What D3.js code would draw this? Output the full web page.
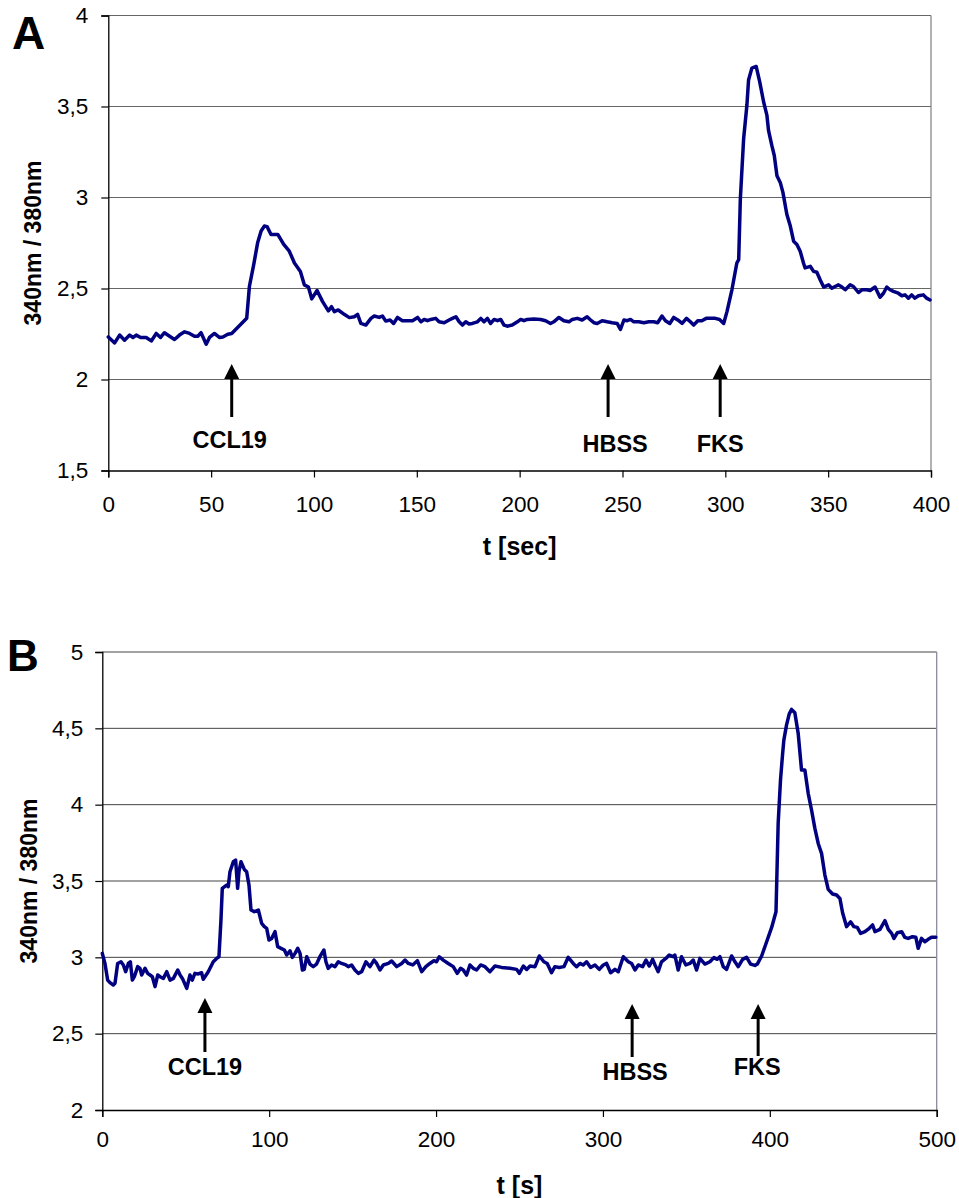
<!DOCTYPE html>
<html><head><meta charset="utf-8">
<script src="https://cdn.jsdelivr.net/npm/d3@7"></script>
<style>body{margin:0;background:#fff}svg{display:block}</style>
</head><body>
<script>
// ---------- Panel A data ----------
const tA = [0,3.1,5.5,7.9,10.4,12.0,13.6,15.7,18.4,20.9,23.3,25.4,27.3,29.8,32.2,34.6,37.1,39.5,41.9,43.5,45.1,47.6,49.2,51.6,54.0,55.7,58.1,60.0,
67.3,68.6,70.7,72.6,74.3,75.9,77.2,79.1,82.4,85.3,88.0,90.5,93.4,95.3,97.3,98.9,101.5,104.2,107.0,108.5,
109.9,111.8,114.7,117.2,119.6,121.2,122.8,125.2,127.7,129.3,131.7,133.3,134.9,137.0,138.7,140.6,143.0,145.5,147.9,150.4,152.0,153.6,155.2,156.8,159.2,160.8,163.3,165.7,167.3,169.0,170.6,172.2,173.8,175.4,177.0,179.5,181.1,182.7,184.3,185.9,187.6,189.2,190.8,192.4,194.0,196.4,198.9,200.5,202.1,203.7,206.9,210.2,212.6,215.0,216.6,219.1,221.5,224.0,225.6,228.0,230.4,232.8,234.5,236.1,237.7,240.1,242.6,245.0,247.4,249.0,250.7,252.3,253.9,
255.5,257.9,260.4,262.8,265.2,267.1,269.2,270.9,273.0,274.9,276.9,279.0,281.1,283.0,284.6,286.6,288.6,290.7,292.7,295.1,297.2,299.2,300.8,303.2,305.6,306.5,307.3,308.9,310.5,311.3,312.9,315.0,316.7,318.6,320.2,321.0,322.6,323.8,325.1,326.7,328.0,329.9,331.6,333.2,334.8,336.4,338.0,338.8,341.3,342.9,344.5,346.1,347.8,350.2,351.8,353.4,355.0,356.7,358.3,360.7,362.3,364.7,366.4,368.8,370.4,372.8,375.2,376.9,378.5,380.1,381.7,384.1,385.8,387.4,389.0,390.6,392.2,393.9,396.3,397.9,399.5];
const vA = [2.234,2.201,2.244,2.216,2.244,2.231,2.244,2.231,2.231,2.212,2.253,2.231,2.257,2.238,2.220,2.244,2.262,2.253,2.238,2.238,2.257,2.194,2.231,2.253,2.231,2.234,2.249,2.253,
2.336,2.511,2.631,2.751,2.816,2.843,2.840,2.797,2.797,2.742,2.705,2.640,2.594,2.520,2.508,2.443,2.489,2.428,2.377,2.400,
2.373,2.382,2.358,2.340,2.345,2.358,2.308,2.299,2.336,2.349,2.341,2.349,2.321,2.327,2.308,2.341,2.323,2.323,2.323,2.341,2.317,2.330,2.323,2.330,2.336,2.317,2.312,2.327,2.336,2.345,2.317,2.299,2.317,2.305,2.308,2.317,2.336,2.317,2.336,2.308,2.330,2.323,2.330,2.299,2.293,2.299,2.317,2.330,2.323,2.330,2.332,2.330,2.323,2.308,2.317,2.341,2.323,2.317,2.330,2.336,2.327,2.345,2.327,2.312,2.308,2.323,2.317,2.312,2.308,2.275,2.327,2.323,2.330,
2.317,2.317,2.312,2.317,2.317,2.312,2.349,2.323,2.308,2.341,2.327,2.308,2.336,2.317,2.299,2.323,2.323,2.336,2.336,2.336,2.330,2.308,2.373,2.493,2.640,2.659,2.991,3.323,3.508,3.646,3.711,3.720,3.637,3.526,3.453,3.369,3.286,3.231,3.120,3.083,3.028,2.908,2.843,2.760,2.742,2.705,2.640,2.613,2.622,2.594,2.589,2.548,2.508,2.520,2.502,2.511,2.520,2.508,2.493,2.520,2.511,2.478,2.493,2.493,2.489,2.508,2.452,2.474,2.508,2.493,2.484,2.474,2.460,2.465,2.447,2.465,2.447,2.460,2.465,2.447,2.437];
const ticksAX = [0,50,100,150,200,250,300,350,400];
const ticksAY = [1.5,2,2.5,3,3.5,4];
const tickLabelsAY = ["1,5","2","2,5","3","3,5","4"];
const eventsA = [60,243,297.5];

// ---------- Panel B data ----------
const tB = [0,1.6,3.2,4.6,6.6,7.6,9.2,11.2,12.6,14.0,15.6,16.8,18.0,19.2,21.2,22.6,23.6,25.6,27.2,28.6,30.0,31.6,33.2,34.6,36.6,38.6,40.6,42.6,45.2,46.6,48.0,50.6,52.5,53.9,55.5,57.5,59.5,60.5,63.5,66.5,68.5,69.9,71.1,71.9,74.5,75.5,76.5,78.5,79.9,81.1,81.9,83.1,85.1,86.5,87.9,89.1,91.1,93.5,95.5,97.1,98.5,99.9,101.5,103.5,105.1,107.1,109.1,110.5,112.5,113.9,115.5,117.1,118.5,119.9,121.0,122.5,124.4,126.4,128.4,130.4,
132.8,134.0,135.4,137.4,139.4,141.4,143.4,146.0,147.4,149.4,151.4,153.4,155.4,158.0,160.4,162.8,164.4,166.4,168.4,171.4,173.4,176.4,179.4,181.4,183.4,186.0,188.8,191.4,193.9,196.3,198.7,200.3,201.9,204.3,207.3,210.3,212.7,214.7,216.3,218.3,220.3,222.3,224.3,226.7,229.3,232.3,235.3,239.3,244.3,248.3,249.9,252.3,254.3,256.3,259.3,261.9,264.6,266.6,269.2,271.2,273.8,276.6,279.2,282.2,284.2,286.2,288.2,290.2,292.6,295.2,297.8,300.2,302.2,304.6,307.2,309.2,
312.2,315.2,317.2,319.2,321.2,323.8,325.8,327.8,329.8,331.2,333.1,335.1,337.7,339.7,342.1,343.1,345.1,347.1,349.7,352.1,354.1,356.1,358.1,361.1,364.1,366.5,368.5,370.1,372.1,374.1,377.1,379.1,381.1,383.7,386.1,388.5,391.1,392.5,395.1,398.1,401.1,403.7,405.0,406.4,407.6,408.4,410.0,411.6,413.0,415.0,417.0,419.0,421.0,423.0,425.0,427.0,429.0,431.0,433.0,435.0,437.6,440.0,442.0,443.6,446.0,448.4,450.4,452.4,454.4,457.0,459.6,461.6,463.0,466.0,469.0,471.0,473.0,474.4,476.4,479.0,480.9,482.9,485.5,487.5,488.9,490.9,492.9,494.9,496.9,499.5];
const vB = [3.026,2.960,2.851,2.834,2.819,2.830,2.960,2.971,2.950,2.906,2.960,2.971,2.851,2.873,2.939,2.928,2.884,2.928,2.895,2.884,2.873,2.808,2.884,2.873,2.862,2.906,2.851,2.862,2.917,2.884,2.862,2.797,2.884,2.851,2.895,2.891,2.899,2.856,2.906,2.971,2.993,3.004,3.244,3.452,3.473,3.463,3.561,3.626,3.637,3.452,3.561,3.626,3.576,3.561,3.473,3.310,3.299,3.310,3.222,3.201,3.190,3.113,3.124,3.168,3.070,3.059,3.048,3.015,3.043,3.000,3.026,3.059,3.026,2.917,2.921,3.004,2.956,2.939,2.956,3.004,
3.048,2.971,2.928,2.950,2.939,2.971,2.960,2.950,2.939,2.950,2.917,2.895,2.906,2.971,2.939,2.982,2.960,2.917,2.950,2.960,2.976,2.939,2.960,2.982,2.960,2.950,2.978,2.906,2.939,2.960,2.978,2.971,3.004,2.982,2.960,2.939,2.895,2.928,2.917,2.884,2.950,2.928,2.917,2.950,2.939,2.906,2.943,2.934,2.928,2.921,2.895,2.943,2.921,2.943,2.939,3.009,2.971,2.960,2.899,2.939,2.934,2.939,3.000,2.960,2.939,2.960,2.950,2.971,2.934,2.950,2.921,2.950,2.960,2.899,2.921,2.906,
3.004,2.971,2.960,2.917,2.950,2.939,2.982,2.943,2.987,2.950,2.906,2.971,2.993,3.015,3.004,3.015,2.917,3.004,2.950,2.960,2.982,2.917,2.993,2.956,2.971,2.998,2.987,3.004,2.939,2.921,3.009,2.971,2.939,2.987,3.000,2.956,2.947,2.956,3.009,3.102,3.196,3.299,3.877,4.161,4.325,4.423,4.521,4.593,4.624,4.602,4.467,4.227,4.227,4.074,3.965,3.845,3.746,3.681,3.539,3.445,3.415,3.408,3.386,3.292,3.201,3.233,3.201,3.196,3.157,3.168,3.190,3.212,3.168,3.183,3.240,3.183,3.157,3.124,3.161,3.168,3.131,3.124,3.135,3.131,3.059,3.124,3.102,3.118,3.131,3.131];
const ticksBX = [0,100,200,300,400,500];
const ticksBY = [2,2.5,3,3.5,4,4.5,5];
const tickLabelsBY = ["2","2,5","3","3,5","4","4,5","5"];
const eventsB = [61.5,317.5,393];

const eventLabels = ["CCL19","HBSS","FKS"];

// ---------- drawing ----------
const W = 959, H = 1198;
const FONT = "Arial, 'Liberation Sans', sans-serif";
const svg = d3.select("body").append("svg").attr("width", W).attr("height", H)
  .style("font-family", FONT);

function panel(cfg) {
  const x = d3.scaleLinear().domain(cfg.xDomain).range([cfg.left, cfg.right]);
  const y = d3.scaleLinear().domain(cfg.yDomain).range([cfg.bottom, cfg.top]);
  const g = svg.append("g");

  // gridlines
  g.selectAll("line.grid").data(cfg.yTicks.slice(1)).join("line")
    .attr("x1", cfg.left).attr("x2", cfg.right)
    .attr("y1", d => y(d)).attr("y2", d => y(d))
    .attr("stroke", cfg.gridColor).attr("stroke-width", 1);
  // right border
  g.append("line").attr("x1", cfg.right).attr("x2", cfg.right)
    .attr("y1", cfg.top).attr("y2", cfg.bottom)
    .attr("stroke", cfg.borderColor).attr("stroke-width", 1.3);

  // axes
  const xAxis = d3.axisBottom(x).tickValues(cfg.xTicks).tickSize(7).tickPadding(cfg.xPad).tickFormat(d3.format("d"));
  const yAxis = d3.axisLeft(y).tickValues(cfg.yTicks).tickSize(7).tickPadding(cfg.yPad)
    .tickFormat((d, i) => cfg.yTickLabels[i]);
  const gx = g.append("g").attr("transform", `translate(0,${cfg.bottom})`).call(xAxis);
  const gy = g.append("g").attr("transform", `translate(${cfg.left},0)`).call(yAxis);
  [gx, gy].forEach(a => {
    a.select(".domain").attr("stroke", "#000").attr("stroke-width", 1.3);
    a.selectAll(".tick line").attr("stroke", "#000").attr("stroke-width", 1.2);
    a.selectAll("text").attr("fill", "#000").style("font-size", "22.5px")
      .style("font-family", FONT);
  });

  // line
  const pts = cfg.t.map((t, i) => [t, cfg.v[i]]);
  g.append("path").datum(pts)
    .attr("d", d3.line().x(d => x(d[0])).y(d => y(d[1])))
    .attr("fill", "none").attr("stroke", "#000080").attr("stroke-width", 3.5)
    .attr("stroke-linejoin", "round").attr("stroke-linecap", "round");

  // event arrows
  cfg.events.forEach((t, i) => {
    const ax = x(t);
    const tip = cfg.arrowTip[i], base = cfg.arrowBottom[i];
    g.append("line").attr("x1", ax).attr("x2", ax).attr("y1", tip + 12).attr("y2", base)
      .attr("stroke", "#000").attr("stroke-width", 3);
    g.append("path").attr("d", `M${ax},${tip} L${ax - 7.5},${tip + 15} L${ax + 7.5},${tip + 15} Z`).attr("fill", "#000");
    g.append("text").attr("x", ax + cfg.labelDx[i]).attr("y", cfg.labelY[i])
      .attr("text-anchor", "middle").style("font-weight", "bold").style("font-size", "23.5px")
      .text(eventLabels[i]);
  });

  // axis titles
  g.append("text").attr("x", (cfg.left + cfg.right) / 2).attr("y", cfg.xTitleY)
    .attr("text-anchor", "middle").style("font-weight", "bold").style("font-size", "25px").text(cfg.xTitle);
  g.append("text").attr("transform", `translate(${cfg.yTitleX},${(cfg.top + cfg.bottom) / 2}) rotate(-90)`)
    .attr("text-anchor", "middle").style("font-weight", "bold").style("font-size", "23px").text("340nm / 380nm");
  // panel letter
  g.append("text").attr("x", cfg.letterX).attr("y", cfg.letterY)
    .style("font-weight", "bold").style("font-size", cfg.letterSize + "px").text(cfg.letter);
}

panel({
  t: tA, v: vA, xDomain: [0, 400], yDomain: [1.5, 4],
  left: 108.3, right: 931, top: 15.5, bottom: 470.5,
  xTicks: ticksAX, yTicks: ticksAY, yTickLabels: tickLabelsAY, xPad: 19, yPad: 13,
  gridColor: "#666", borderColor: "#888",
  events: eventsA, arrowTip: [364, 364, 364], arrowBottom: [417, 417, 417],
  labelY: [448, 452, 452], labelDx: [-2, 7, 0],
  xTitle: "t [sec]", xTitleY: 555, yTitleX: 41,
  letter: "A", letterX: 12, letterY: 49, letterSize: 46
});

panel({
  t: tB, v: vB, xDomain: [0, 500], yDomain: [2, 5],
  left: 102.3, right: 936.7, top: 652, bottom: 1110,
  xTicks: ticksBX, yTicks: ticksBY, yTickLabels: tickLabelsBY, xPad: 14, yPad: 12,
  gridColor: "#444", borderColor: "#8a8aa0",
  events: eventsB, arrowTip: [998, 1004, 1004], arrowBottom: [1052, 1057, 1056],
  labelY: [1075, 1080, 1075], labelDx: [0, 3, -1],
  xTitle: "t [s]", xTitleY: 1194, yTitleX: 37,
  letter: "B", letterX: 7, letterY: 671, letterSize: 44
});
</script>
</body></html>
